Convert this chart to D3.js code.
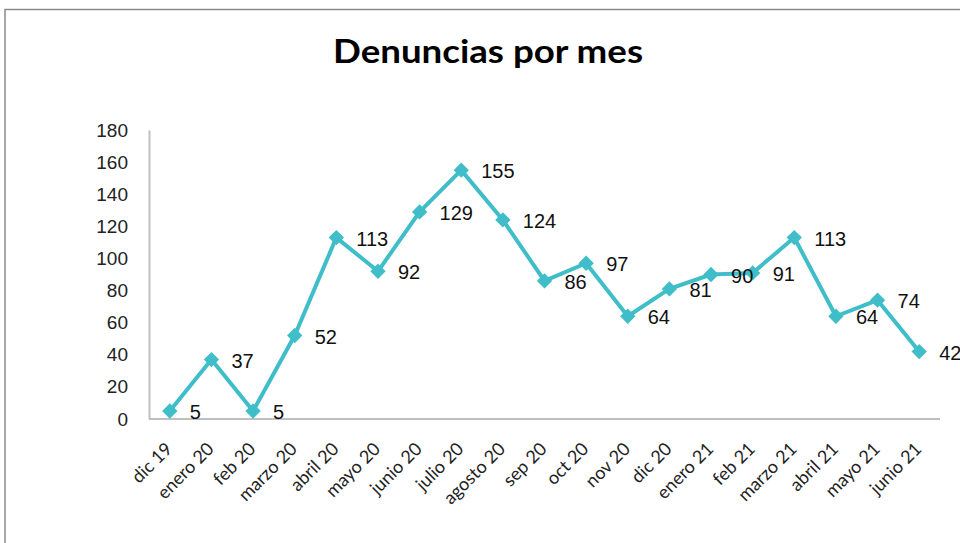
<!DOCTYPE html>
<html><head><meta charset="utf-8">
<script src="https://cdn.jsdelivr.net/npm/d3@7"></script>
<style>body{margin:0;background:#fff}svg{display:block}</style>
</head><body>
<script>
const categories = ["dic 19","enero 20","feb 20","marzo 20","abril 20","mayo 20","junio 20","julio 20","agosto 20","sep 20","oct 20","nov 20","dic 20","enero 21","feb 21","marzo 21","abril 21","mayo 21","junio 21"];
const values = [5,37,5,52,113,92,129,155,124,86,97,64,81,90,91,113,64,74,42];
const yTicks = [0,20,40,60,80,100,120,140,160,180];
const title = "Denuncias por mes";

(function () {
const W = 960, H = 543;
const svg = d3.select("body").append("svg").attr("width", W).attr("height", H);
svg.append("rect").attr("width", W).attr("height", H).attr("fill", "#fff");
// frame
svg.append("rect").attr("x", 5).attr("y", 9.5).attr("width", 960).attr("height", 540)
  .attr("fill", "none").attr("stroke", "#8a8a8a").attr("stroke-width", 1.5);

const mLeft = 149, mRight = 940, mTop = 130, mBottom = 419;
const x = d3.scalePoint().domain(categories).range([mLeft, mRight]).padding(0.5);
const y = d3.scaleLinear().domain([0, 180]).range([mBottom, mTop]);

svg.append("text").attr("x", 333).attr("y", 63)
  .attr("font-family", "Lato, 'Open Sans', sans-serif").attr("font-weight", "bold")
  .attr("font-size", 33).attr("fill", "#000")
  .attr("textLength", 310).attr("lengthAdjust", "spacingAndGlyphs").text(title);

// y axis
const ya = svg.append("g").attr("transform", `translate(${mLeft},0)`)
  .call(d3.axisLeft(y).tickValues(yTicks).tickSize(0).tickPadding(21));
ya.select(".domain").attr("stroke", "#bfbfbf").attr("stroke-width", 2);
ya.selectAll("text").attr("font-family", "Liberation Sans, Arial, sans-serif").attr("font-size", 19).attr("fill", "#222");

// x axis
const xa = svg.append("g").attr("transform", `translate(0,${mBottom})`)
  .call(d3.axisBottom(x).tickSize(0).tickPadding(0));
xa.select(".domain").attr("stroke", "#bfbfbf").attr("stroke-width", 2).attr("d", `M${mLeft},0H${mRight}`);
xa.selectAll("text")
  .attr("font-family", "Lato, 'Open Sans', sans-serif").attr("font-size", 18).attr("fill", "#222")
  .attr("text-anchor", "end").attr("dy", null)
  .attr("transform", "translate(3,31) rotate(-45)");

const color = "#3fbdc8";
const line = d3.line().x((d, i) => x(categories[i])).y(d => y(d));
svg.append("path").datum(values).attr("d", line).attr("fill", "none")
  .attr("stroke", color).attr("stroke-width", 4).attr("stroke-linejoin", "round");

svg.selectAll(".pt").data(values).enter().append("path")
  .attr("d", d3.symbol(d3.symbolDiamond2, 150)())
  .attr("transform", (d, i) => `translate(${x(categories[i])},${y(d)})`)
  .attr("fill", color);

svg.selectAll(".lbl").data(values).enter().append("text")
  .attr("x", (d, i) => x(categories[i]) + 20).attr("y", d => y(d) + 8)
  .attr("font-family", "Liberation Sans, Arial, sans-serif").attr("font-size", 20).attr("fill", "#111")
  .text(d => d);
})();
</script>
</body></html>
